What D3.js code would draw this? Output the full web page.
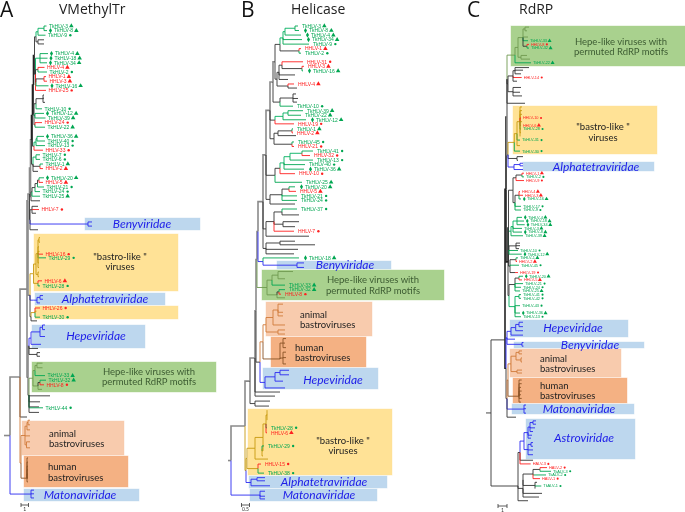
<!DOCTYPE html>
<html>
<head>
<meta charset="utf-8">
<script src="https://d3js.org/d3.v7.min.js"></script>
<style>
  body { margin: 0; background: #fff; }
  svg { display: block; filter: blur(0.3px); }
  text { font-family: Lato, "Open Sans", sans-serif; }
  .taxon { font-family: "Liberation Sans", Arial, sans-serif; }
  .title { font-family: "Open Sans", sans-serif; }
</style>
</head>
<body>
<svg id="chart" width="685" height="512"></svg>
<script>
// taxa with a triangle after the name, everything else gets a dot
const triangleTaxa = ["TkHLV-3", "TkHLV-8", "TkHLV-4", "TkHLV-18", "TkHLV-34", "TkHLV-16", "TkHLV-12", "TkHLV-39",
  "TkHLV-22", "TkHLV-36", "TkHLV-1", "TkHLV-20", "TkHLV-25", "TkHLV-33", "TkHLV-32",
  "HHLV-4", "HHLV-1", "HHLV-3", "HHLV-2", "HHLV-5", "HHLV-6"];
// taxa with a diamond in front of the name
const diamondTaxa = ["TkHLV-8", "TkHLV-4", "TkHLV-18", "TkHLV-34", "TkHLV-16", "TkHLV-12", "TkHLV-36", "TkHLV-20"];

// tree format: node = [depth, [children], colourKey, row], tip = [depth, row, label]
// depth is distance from the panel origin in tree units, row is the order on the vertical
const topCombA = [36, [
  [38, [[44, [[46.5, 0, "TkHLV-3"], [47, 1, "TkHLV-8"]], "t"], [45.5, 2, "TkHLV-9"]], "t"],
  [38, [[44, 3], [44, 3.9]]]
]];
const secondCombA = [35.5, [
  [37, [[40, [[48, 6, "TkHLV-4"], [47.5, 7, "TkHLV-18"], [47, 8, "TkHLV-34"]], "t"]], "t"],
  [38, [[44.5, 9, "HHLV-4"], [47, 10, "TkHLV-2"]]],
  [36, [[44, [[46, 11, "HHLV-1"], [47, 12, "HHLV-3"]]], [48.5, 13, "TkHLV-16"]]],
  [46, 14, "HHLV-25"]
]];
const thirdCombA = [34, [
  [36, [[43, [[44, 15], [44, 15.7], [45, 16.6]]], [42, 18, "TkHLV-10"]]],
  [35, [[44, 19, "TkHLV-12"], [45.5, 20, "TkHLV-39"]], "t"],
  [35, [[42, 21, "HHLV-24"], [45, 22, "TkHLV-22"]]]
]];
const fourthCombA = [34, [
  [36, [[37, [[44, 24, "TkHLV-36"], [45, 25, "TkHLV-40"]], "t"], [45, 26, "TkHLV-13"]], "t"],
  [43, 27, "HHLV-33"]
]];
const fifthCombA = [33, [
  [36, [[40, 28, "TkHLV-7"], [40, 29, "TkHLV-6"]], "t"],
  [40, [[43, 30, "TkHLV-1"], [43, 31, "HHLV-2"]]],
  [38, 31.6]
]];
const sixthCombA = [31, [
  [32, [
    [35, [[37.5, [[39, [[44, 33, "TkHLV-20"], [43, 34, "HHLV-5"]]], [44, 35, "TkHLV-21"]]], [40, 36, "TkHLV-24"]]],
    [40, 37, "TkHLV-25"]
  ]],
  [40, 38]
], "s"];
const benyGroupA = [30, [
  [32, [[38, 39.2], [39, 39.9, "HHLV-7"], [36, 40.7]]],
  [30, [[88, [[92, 42.6], [92, 43.5]], "b"]], "b"],
  [38, 44.3]
]];
const bastroLikeA = [33.5, [
  [36, [
    [38, [
      [39, [[40, 46], [40, 47]]], [39, 48], [39.5, 49], [43, 49.6, "HHLV-16"], [46, 50.4, "TkHLV-29"], [39, 51.5], [39, 52.5]
    ]],
    [38, [[39, 53.5], [39, 54.5]]]
  ]],
  [38, [[42, 55.4, "HHLV-6"], [40, 56.5, "TkHLV-28"]]]
], "y"];
const alphaA = [33.5, [[37, [[40, [[43, 58.6], [43, 59.4]]], [40, 60.2]]]], "b"];
const bastroLike2A = [31, [[35, [[40, 61.3, "HHLV-26"], [36.5, 62], [40, 63.3, "TkHLV-30"]], "y"], [37, 64.1]]];
const hepeA = [31, [[40, [[42.5, [[45, 65], [45, 66]]], [45, 67.5]]], [41, 69.2]], "b"];
const hepeLikeA = [33, [
  [35, [[37, [[42.5, 73.3], [42.5, 74.3]]], [45, 76, "TkHLV-33"]]],
  [38, [[40, [[46, 77, "TkHLV-32"], [44, 78, "HHLV-8"]], "k"], [42, 79]]]
], "g"];
const animalA = [22, [[25, [[27, [[28, [[30, 85.7], [30, 86.7]]], [30, 87.8]]], [30, 89.1], [26.5, [[30, 90.4], [30, 91.7]]]]]], "o"];
const humanA = [27, [[28, 93.9], [28, 94.8], [28, 95.7], [28, 96.5], [28, 97.4], [28, 98.3], [28, 99.1]], "h", 98.3];
const matonaA = [31, [[34, 100.9], [34, 101.7], [34, 102.6]], "b"];

const treeA = [4, [[10, [
  [20, [
    [27, [
      [28, [
        [29.5, [
          [30.5, [
            [31.5, [
              [32.5, [
                [33.5, [[34.5, [topCombA, secondCombA], "d"], thirdCombA], "d"],
                fourthCombA
              ], "d"],
              fifthCombA
            ], "s"],
            sixthCombA
          ], "s"],
          benyGroupA
        ], "s"],
        [30, [bastroLikeA, alphaA, bastroLike2A], "s"]
      ], "s", 38],
      [28, [
        [29, [hepeA, [38, 70.1], [37, [[40, 71], [40, 71.8]]]], "s"],
        [29, [hepeLikeA, [50, 80.4], [40, 81.7], [39, 82.8], [43, 83, "TkHLV-44"], [39, 84]], "k"]
      ], "s", 76.3]
    ], "s", 57.2],
    [27, 85],
    [21, [animalA, humanA], "o", 95]
  ], "s", 76.3],
  [31, [matonaA], "b"]
], "s"]]];

const firstCombB = [50, [
  [53, [
    [55, [[65, [[68, 0, "TkHLV-3"], [69, 1, "TkHLV-8"]]], [71, 2, "TkHLV-4"]]],
    [72, 3, "TkHLV-34"], [79, 4, "TkHLV-9"]
  ], "t"],
  [69, [[71, 5, "HHLV-1"], [71, 6, "TkHLV-2"]]]
]];
const secondCombB = [49, [
  [52, [[73, 7.9, "HHLV-31"], [72, [[74, 8.9, "HHLV-3"], [73, 9.9, "TkHLV-16"]]]]],
  [65, 10.8], [58, 11.8]
]];
const thirdCombB = [50, [
  [63, [[66, 15], [68, 16], [67, 16.8]]],
  [63, 17.7, "TkHLV-10"]
]];
const fourthCombB = [45, [
  [53, [[58, [[73, 18.7, "TkHLV-39"], [71, 19.7, "TkHLV-22"]]], [76, 20.7, "TkHLV-12"]], "t"],
  [64, 21.6, "HHLV-19"]
]];
const fifthCombB = [44, [
  [48, [[62, [[63, 22.7, "TkHLV-1"], [63, 23.6, "HHLV-2"]]], [66, 24.2]]],
  [62, [[64, 25.6, "TkHLV-45"], [64, 26.6, "HHLV-21"]]]
]];
const sixthCombB = [45, [
  [50, [
    [54, [
      [60, [[72, [[83, 27.6, "TkHLV-41"], [80, 28.6, "HHLV-32"]]], [83, 29.6, "TkHLV-13"]], "t"],
      [75, 30.6, "TkHLV-40"], [74, 31.6, "TkHLV-36"]
    ], "t"],
    [65, 32.6, "HHLV-10"]
  ]],
  [72, 34.5, "TkHLV-25"]
]];
const seventhCombB = [40, [
  [52, [[59, [[65, 35.5, "TkHLV-20"], [66, 36.5, "HHLV-5"]]], [67, 37.5, "TkHLV-21"], [67, 38.5, "TkHLV-24"]]],
  [65, 39.3]
]];
const eighthCombB = [36, [
  [44, [
    [52, [[67, 40.4, "TkHLV-37"], [69, 41.7]]],
    [53, [[69, 43.2], [65, 44.3]]],
    [64, 45.3, "HHLV-7"]
  ]],
  [79, 46.4]
]];
const ninthCombB = [36, [
  [50, [[65, 47.5], [85, 48.3]]],
  [68, 49.3], [64, 50.3]
]];
const benyB = [33, [[69, 51.2, "TkHLV-18"], [67, [[74, 52.3], [74, 53.3]], "b"]], "b"];
const hepeLikeB = [37, [
  [42, [[48, [[63, 54.2], [55, 55.8]]], [55, 57.2, "TkHLV-33"]]],
  [47, [[49, [[55, 58.2, "TkHLV-32"], [51, 59.2, "HHLV-8"]], "k"], [55, 60]]]
], "g"];
const animalB = [36, [
  [43, [[48, [[53, 61.4], [53, 63.2], [53, 64]]], [55, 66]]],
  [48, [[55, 67.1], [55, 68]]]
], "o"];
const humanB = [50, [[53, [[56, 69], [55, 70], [56, 71]]], [53, [[56, 72], [56, 73.2], [56, 74.6]]]], "h", 73.5];
const hepeB = [35, [
  [45, [[50, [[59, 76], [59, 77]]], [53, 78.4]]],
  [55, 79.9]
], "b"];
const bastroLikeB = [17, [
  [25, [
    [33, [
      [36, [[37, [[37, 84.8], [37, 85.8], [37, 87]]], [37, 88.7, "TkHLV-28"], [37, 89.8, "HHLV-6"]]],
      [32, [[34, 92.7, "TkHLV-29"], [33, 93.4], [33, 94.9]]]
    ]],
    [38, 95.6]
  ]],
  [28, [[31, 96.7, "HHLV-15"], [34, 98.7, "TkHLV-38"]]]
], "y"];
const alphaB = [21, [[27, [[35, 99.7], [35, 100.4]]], [40, 101.5]], "b"];
const matonaB = [30, [[35, 102.7], [35, 103.8], [35, 104.4]], "b"];

const treeB = [-2, [[1, [
  [15, [
    [20, [
      [25, [
        [26, [
          [27, [
            [28, [
              [33, [
                [36, [
                  [40, [
                    [43, [
                      [45, [firstCombB, [47, [secondCombB, [58, [[64, 12.8, "HHLV-4"], [67, 13.7]]]]]], "s"],
                      thirdCombB
                    ], "s"],
                    fourthCombB, fifthCombB
                  ], "s"],
                  sixthCombB, seventhCombB
                ], "s"],
                eighthCombB, ninthCombB
              ], "s"],
              benyB
            ], "s"],
            hepeLikeB
          ], "s"],
          [30, [[33, [animalB, humanB], "o"], hepeB]]
        ], "s"],
        [50, 80.8], [45, 81.7]
      ], "s", 73.3],
      [25, [[40, 82.8], [39, 83.9]]]
    ], "s", 78.4],
    [16, [bastroLikeB, alphaB], "y"]
  ], "s", 88.3],
  [30, [matonaB], "b"]
], "s"]]];

const hepeLikeC = [60, [
  [63, [
    [68, [[70, [[74, 0.3], [72, 1.3]]], [73, 3], [73, 4, "TkHLV-33"], [72, [[74, 5, "HHLV-8"], [74, 6, "TkHLV-32"]], "k"]]],
    [66, [[72, 8], [75, 9]]]
  ], "g"],
  [76, 10, "TkHLV-22"]
], "g"];
const blackGroupC = [53, [
  [58, [[60, [[74, 11.3], [68, 12], [66, 13]]], [66.7, 14, "HHLV-14"], [62, 15]]],
  [58, [[66, 16.7], [65, 18], [67, 19]]]
]];
const bastroLikeC = [59.3, [
  [62, [
    [65, [[67, 22], [67, 23], [67, 24], [66, 25, "HHLV-10"], [67, 26], [66, 27, "HHLV-6"], [66, 28, "TkHLV-28"], [66, 29], [65, 30]]],
    [65, 31, "TkHLV-31"], [65, 32.5]
  ]],
  [65, 34, "TkHLV-30"]
], "y"];
const alphaC = [54, [[59, [[65, [[68, 37.3], [68, 38]]], [68, 39]]]], "b"];
const groupOneC = [58, [
  [61, [[67, [[69, 40, "HHLV-1"], [69, 41, "TkHLV-2"]]], [69, 42, "HHLV-9"]]],
  [60, [[64, [[65, 45, "HHLV-4"], [68, 46, "HHLV-3"], [66, 47, "TkHLV-16"]]], [66, 49, "TkHLV-17"], [66, 50, "TkHLV-9"]]]
]];
const groupTwoC = [56, [
  [58, [[62, [[67, 52, "TkHLV-4"], [69, 53, "TkHLV-18"], [69.7, 54, "TkHLV-34"]]], [67, 55, "TkHLV-3"], [67, 56, "TkHLV-8"]], "t"],
  [68, 57, "TkHLV-39"]
], "t"];
const groupThreeC = [54, [
  [61, [[65, 59], [65, 59.7], [64, 60.5]], "k"],
  [63, 61, "TkHLV-10"], [66.7, 62, "TkHLV-12"]
], "t"];
const groupFourC = [55, [
  [61, [[63, 63, "TkHLV-1"], [62, 64, "HHLV-2"]]],
  [64, 65, "TkHLV-45"],
  [60, [[63, 67, "HHLV-19"]]]
]];
const groupFiveC = [54, [
  [60, [[64, [[68, 68, "TkHLV-20"], [67, 69, "HHLV-5"]]], [68, 70, "TkHLV-21"], [66, 71, "TkHLV-24"], [65, 72, "TkHLV-25"]]],
  [60, [[64, [[66, 73, "TkHLV-41"], [66, 74, "TkHLV-42"]], "t"], [65, 76, "TkHLV-43"], [65, 78, "TkHLV-36"], [66, 79, "TkHLV-13"]], "t"]
]];
const hepeC = [56, [[60.7, [[64, [[68, 80.5], [68, 81.7]]], [68, 82.8]]], [68, 84]], "b"];
const benyC = [67, [[68.5, 86], [68.5, 87]], "b"];
const animalC = [56, [
  [61, [[64, [[67, 88.3], [67, 89.1]]], [66, [[67, 90.2], [67, 91.3]]]]],
  [62, [[67, 93.5], [67, 94.3]]]
], "o"];
const humanC = [64, [[66.7, 96.2], [66.7, 97.2], [66, 98.2], [66.7, 99.2], [66, 100.2], [66.7, 101.2], [66, 102.2]], "h", 100.6];
const matonaC = [69, [[71, 103], [71, 104], [71, 105.2]], "b"];
const astroC = [69, [
  [73, [[75, [[78, [[81, 107.3], [81, 108.2]]], [80, 109.2], [78, 110.2]]], [77, 111.2], [76, 112]]],
  [73, [[76, [[78, 113.2], [78, 114.2]]], [78, 115.2], [78, 116.5]]]
], "b"];
const astroLikeC = [68, [
  [78, [[85, [[92, 120, "HALV-2"], [96, 121, "TkALV-3"]]], [91, 122, "TkALV-2"], [85, 123, "HALV-1"]]],
  [80, [[82, 124], [86.3, 125, "TkALV-1"], [80, 125.7]]]
]];

const treeC = [31, [[36, [
  [50, [
    [51, [
      [52, [
        [52, [hepeLikeC, blackGroupC, [70, 21]], "s"],
        [53, [bastroLikeC, [62, [[68, 35.5], [63, 36.5]]], alphaC], "s"]
      ], "d"],
      [53, [
        [53.5, [groupOneC, groupTwoC, groupThreeC, groupFourC], "d"],
        groupFiveC
      ], "d"]
    ], "d"],
    [51, [
      [52, [hepeC, [60, 85.1], benyC], "b"],
      [52, [[53, [animalC, humanC], "o"], matonaC, [61, 106.3]], "k"]
    ], "d"]
  ], "k", 85.3],
  [63, [
    [65, [astroC, [78, 118], [75.7, 119, "HALV-3"]]],
    [68, [astroLikeC, [87, 127], [84, 128]]],
    [73, 129]
  ], "k", 125]
]]]];

// highlight boxes and texts of each panel, in page pixels
const panels = [
  {
    letter: "A", letterX: 0, title: "VMethylTr", titleX: 59, tree: treeA, originX: 0, rowStep: 4.6,
    gap: [2.5, 7], fontSize: 5, bar: [21, 7.5, "1"], barY: 505,
    boxes: [
      [85, 218, 115, 12, "#bdd7ee"], [34, 234, 144, 57, "#ffe296"], [35, 293, 130, 12, "#bdd7ee"],
      [35, 306, 143, 13, "#ffe296"], [32, 325, 113, 23, "#bdd7ee"], [32, 362, 184, 30, "#a9d18e"],
      [22, 421, 102, 34, "#f8cbad"], [24, 456, 104, 31, "#f4b183"], [24, 489, 115, 12, "#bdd7ee"]
    ],
    italics: [["Benyviridae", 142, 224], ["Alphatetraviridae", 105, 299], ["Hepeviridae", 96, 336], ["Matonaviridae", 80, 495]],
    notes: [["\"bastro-like \"", 120, 256, "middle"], ["viruses", 120, 266, "middle"],
      ["Hepe-like viruses with", 149, 371, "middle", "#3d5c32"], ["permuted RdRP motifs", 149, 381, "middle", "#3d5c32"],
      ["animal", 49, 433, "start"], ["bastroviruses", 49, 443, "start"], ["human", 48, 466, "start"], ["bastroviruses", 48, 477, "start"]]
  },
  {
    letter: "B", letterX: 241, title: "Helicase", titleX: 291, tree: treeB, originX: 230, rowStep: 4.53,
    gap: [4, 10], fontSize: 5, bar: [11.5, 8, "0.5"], barY: 505,
    boxes: [
      [277, 261, 114, 8, "#bdd7ee"], [262, 270, 182, 30, "#a9d18e"], [266, 302, 106, 34, "#f8cbad"],
      [271, 337, 95, 30, "#f4b183"], [263, 368, 115, 21, "#bdd7ee"], [248, 409, 144, 66, "#ffe296"],
      [249, 476, 138, 12, "#bdd7ee"], [250, 489, 127, 12, "#bdd7ee"]
    ],
    italics: [["Benyviridae", 345, 265], ["Hepeviridae", 333, 380], ["Alphatetraviridae", 324, 482], ["Matonaviridae", 319, 495]],
    notes: [["Hepe-like viruses with", 373, 279, "middle", "#3d5c32"], ["permuted RdRP motifs", 373, 290, "middle", "#3d5c32"],
      ["animal", 300, 314, "start"], ["bastroviruses", 300, 324, "start"], ["human", 295, 347, "start"], ["bastroviruses", 295, 357, "start"],
      ["\"bastro-like \"", 343, 440, "middle"], ["viruses", 343, 450, "middle"]]
  },
  {
    letter: "C", letterX: 467, title: "RdRP", titleX: 519, tree: treeC, originX: 455, rowStep: 3.68,
    gap: [2, 6], fontSize: 3.9, bar: [43, 9, "1"], barY: 506,
    boxes: [
      [511, 26, 174, 40, "#a9d18e"], [513, 106, 144, 48, "#ffe296"], [523, 162, 131, 9, "#bdd7ee"],
      [510, 320, 118, 17, "#bdd7ee"], [514, 342, 130, 6, "#bdd7ee"], [510, 349, 111, 28, "#f8cbad"],
      [513, 378, 114, 25, "#f4b183"], [512, 404, 122, 10, "#bdd7ee"], [526, 419, 109, 40, "#bdd7ee"]
    ],
    italics: [["Alphatetraviridae", 596, 167], ["Hepeviridae", 573, 328], ["Benyviridae", 590, 345], ["Matonaviridae", 579, 409], ["Astroviridae", 584, 438]],
    notes: [["Hepe-like viruses with", 621, 41, "middle", "#3d5c32"], ["permuted RdRP motifs", 621, 51, "middle", "#3d5c32"],
      ["\"bastro-like \"", 603, 126, "middle"], ["viruses", 603, 137, "middle"],
      ["animal", 540, 358, "start"], ["bastroviruses", 540, 368, "start"], ["human", 540, 385, "start"], ["bastroviruses", 540, 395, "start"]]
  }
];

const branchColors = { k: "#333", d: "#222", s: "#8a8a8a", t: "#00b060", b: "#2a2af0", o: "#d07a3a", h: "#8a5326", y: "#c79a10", g: "#6f9a50" };
const svg = d3.select("#chart");

const tipColor = (label) => (label.startsWith("H") ? "#ff2020" : "#00a651");

const drawPanel = (panel) => {
  const x = d3.scaleLinear().domain([0, 230]).range([panel.originX, panel.originX + 230]);
  const y = d3.scaleLinear().domain([0, 100]).range([26, 26 + 100 * panel.rowStep]);
  const g = svg.append("g");

  // Draw the coloured boxes under the tree
  g.selectAll(".box")
    .data(panel.boxes)
    .enter()
    .append("rect")
    .attr("x", (d) => d[0])
    .attr("y", (d) => d[1])
    .attr("width", (d) => d[2])
    .attr("height", (d) => d[3])
    .style("fill", (d) => d[4])
    .style("stroke", (d) => d[4])
    .style("stroke-opacity", 0.4);

  const root = d3.hierarchy(panel.tree, (d) => (Array.isArray(d[1]) ? d[1] : null));
  root.eachAfter((node) => {
    const raw = node.data;
    node.depthX = x(raw[0]);
    if (node.children) {
      const mid = (node.children[0].rowY + node.children[node.children.length - 1].rowY) / 2;
      node.rowY = raw[3] !== undefined ? y(raw[3]) : mid;
    } else {
      node.rowY = y(raw[1]);
    }
  });
  root.eachBefore((node) => {
    const raw = node.data;
    const key = node.children ? raw[2] : null;
    node.colorKey = key || (node.parent ? node.parent.colorKey : "k");
    if ((node.colorKey === "s" || node.colorKey === "d") && !key) node.colorKey = "k";
    node.label = node.children ? null : raw[2] || null;
  });

  const nodes = root.descendants();
  const isSpine = (d) => d.colorKey === "s" || d.colorKey === "d";
  const tree = g.append("g").style("fill", "none");

  // Each branch is one elbow from the parent, thick backbone goes first
  const branches = nodes.filter((d) => d.parent).sort((a, b) => isSpine(b) - isSpine(a));
  tree.selectAll(".branch")
    .data(branches)
    .enter()
    .append("path")
    .attr("d", (d) => `M${d.parent.depthX},${d.parent.rowY}V${d.rowY}H${d.depthX}`)
    .style("stroke", (d) => (d.label ? tipColor(d.label) : branchColors[d.colorKey]))
    .style("stroke-width", (d) => (isSpine(d) ? 1.6 : 0.9));

  // Draw the taxon labels with their symbols
  nodes.filter((d) => d.label).forEach((d) => {
    const fs = panel.fontSize;
    const hasDiamond = diamondTaxa.includes(d.label);
    const color = tipColor(d.label);
    const labelX = d.depthX + (hasDiamond ? panel.gap[1] : panel.gap[0]);
    const text = g.append("text")
      .attr("class", "taxon")
      .attr("x", labelX)
      .attr("y", d.rowY + fs * 0.36)
      .style("font-size", `${fs}px`)
      .style("fill", color)
      .text(d.label);
    const tail = labelX + text.node().getComputedTextLength() + fs * 0.65;
    const triangle = triangleTaxa.includes(d.label);
    g.append("path")
      .attr("d", d3.symbol().type(triangle ? d3.symbolTriangle : d3.symbolCircle).size(triangle ? fs * 1.8 : fs * 0.9)())
      .attr("transform", `translate(${tail},${d.rowY})`)
      .style("fill", color);
    if (hasDiamond) {
      g.append("path")
        .attr("d", d3.symbol().type(d3.symbolDiamond).size(fs * 1.6)())
        .attr("transform", `translate(${labelX - fs * 0.7},${d.rowY})`)
        .style("fill", color);
    }
  });

  // Panel letter and title
  g.append("text").attr("class", "title").attr("x", panel.letterX).attr("y", 16.5).style("font-size", "21px").style("fill", "#111").text(panel.letter);
  g.append("text").attr("class", "title").attr("x", panel.titleX).attr("y", 14).style("font-size", "14px").style("fill", "#222").text(panel.title);

  // Clade names
  g.selectAll(".clade")
    .data(panel.italics)
    .enter()
    .append("text")
    .attr("x", (d) => d[1])
    .attr("y", (d) => d[2] + 4)
    .attr("text-anchor", "middle")
    .style("font-size", "12px")
    .style("font-style", "italic")
    .style("fill", "#1c1ce8")
    .text((d) => d[0]);

  g.selectAll(".note")
    .data(panel.notes)
    .enter()
    .append("text")
    .attr("x", (d) => d[1])
    .attr("y", (d) => d[2] + 3.5)
    .attr("text-anchor", (d) => d[3])
    .style("font-size", "9.5px")
    .style("fill", (d) => d[4] || "#222")
    .text((d) => d[0]);

  // Scale bar
  const barX0 = x(panel.bar[0]);
  const barX1 = x(panel.bar[0] + panel.bar[1]);
  g.append("path")
    .attr("d", `M${barX0},${panel.barY - 2}v4M${barX0},${panel.barY}H${barX1}M${barX1},${panel.barY - 2}v4`)
    .style("fill", "none")
    .style("stroke", "#333")
    .style("stroke-width", 0.8);
  g.append("text")
    .attr("x", (barX0 + barX1) / 2)
    .attr("y", panel.barY + 6)
    .attr("text-anchor", "middle")
    .style("font-size", "5px")
    .style("fill", "#333")
    .text(panel.bar[2]);
};

panels.forEach(drawPanel);
</script>
</body>
</html>
